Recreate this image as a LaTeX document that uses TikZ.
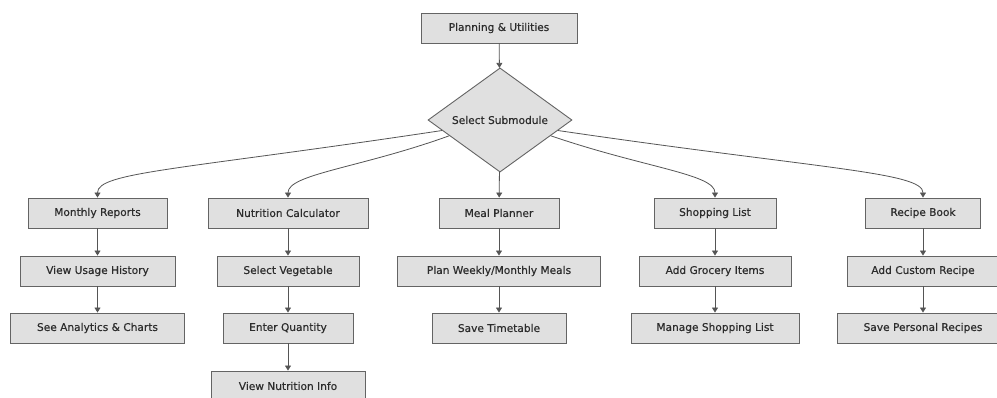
\documentclass[tikz,border=0pt]{standalone}
\usepackage{fontspec}
\setmainfont{DejaVu Sans}
\newfontfamily\boxfont{DejaVu Sans}[FakeBold=0.5]
\usetikzlibrary{shapes.geometric,arrows.meta,calc}
\definecolor{boxfill}{RGB}{224,224,224}
\definecolor{boxline}{RGB}{100,100,100}
\definecolor{edgecol}{RGB}{85,85,85}
\definecolor{txt}{RGB}{45,45,45}
\tikzset{
  box/.style={draw=boxline, fill=boxfill, line width=0.9pt, rectangle, minimum height=30pt,
    inner sep=0pt, text=txt, font=\boxfont\fontsize{10.6}{12}\selectfont},
  dec/.style={draw=boxline, fill=boxfill, line width=0.9pt, diamond, minimum width=144pt,
    minimum height=100pt, inner sep=0pt, text=txt, font=\boxfont\fontsize{10.6}{12}\selectfont},
  link/.style={draw=edgecol, line width=0.8pt, -{Triangle[width=6pt,length=5pt]}}
}
\begin{document}
\begin{tikzpicture}[x=1pt,y=-1pt]
\useasboundingbox (0,0) rectangle (997,397);
\clip (0,0) rectangle (997,397);
\fill[white] (0,0) rectangle (997,397);
% top
\node[box, minimum width=156pt] (top) at (499,28) {Planning \& Utilities};
\node[dec] (sel) at (500,120) {Select Submodule};
% row 1
\node[box, minimum width=139pt] (mr) at (97.5,213) {Monthly Reports};
\node[box, minimum width=160pt] (nc) at (288,213) {Nutrition Calculator};
\node[box, minimum width=120pt] (mp) at (499,213) {Meal Planner};
\node[box, minimum width=122pt] (sl) at (715,213) {Shopping List};
\node[box, minimum width=115pt] (rb) at (923,213) {Recipe Book};
% row 2
\node[box, minimum width=155pt] (vu) at (97.5,271) {View Usage History};
\node[box, minimum width=142pt] (sv) at (288,271) {Select Vegetable};
\node[box, minimum width=203pt] (pw) at (499,271) {Plan Weekly/Monthly Meals};
\node[box, minimum width=152pt] (ag) at (715,271) {Add Grocery Items};
\node[box, minimum width=152pt] (ac) at (923,271) {Add Custom Recipe};
% row 3
\node[box, minimum width=174pt] (sa) at (97.5,328) {See Analytics \& Charts};
\node[box, minimum width=130pt] (eq) at (288,328) {Enter Quantity};
\node[box, minimum width=134pt] (st) at (499,328) {Save Timetable};
\node[box, minimum width=168pt] (ms) at (715,328) {Manage Shopping List};
\node[box, minimum width=172pt] (sp) at (923,328) {Save Personal Recipes};
% row 4
\node[box, minimum width=154pt] (vn) at (288,386) {View Nutrition Info};
% edges
\draw[link] (top) -- (sel);
\draw[link] (sel) -- (mp);
\coordinate (s1) at ($(sel.west)!0.2!(sel.south)$);
\coordinate (s2) at ($(sel.west)!0.3!(sel.south)$);
\coordinate (s3) at ($(sel.east)!0.3!(sel.south)$);
\coordinate (s4) at ($(sel.east)!0.2!(sel.south)$);
\draw[link] (s1) .. controls (180,170) and (97.5,172) .. (mr.north);
\draw[link] (s2) .. controls (360,168) and (288,174) .. (nc.north);
\draw[link] (s3) .. controls (645,168) and (715,174) .. (sl.north);
\draw[link] (s4) .. controls (820,169) and (923,172) .. (rb.north);
\draw[link] (mr) -- (vu);
\draw[link] (vu) -- (sa);
\draw[link] (nc) -- (sv);
\draw[link] (sv) -- (eq);
\draw[link] (eq) -- (vn);
\draw[link] (mp) -- (pw);
\draw[link] (pw) -- (st);
\draw[link] (sl) -- (ag);
\draw[link] (ag) -- (ms);
\draw[link] (rb) -- (ac);
\draw[link] (ac) -- (sp);
\end{tikzpicture}
\end{document}
